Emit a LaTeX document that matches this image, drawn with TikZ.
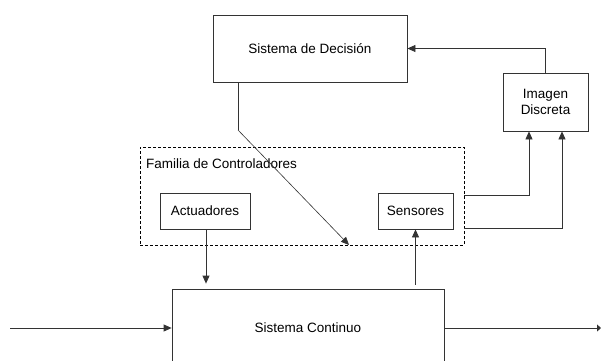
\documentclass[tikz,border=0pt]{standalone}
\usepackage{fontspec}
\setmainfont{Liberation Sans}
\usetikzlibrary{arrows.meta,calc}
\begin{document}
\begin{tikzpicture}[x=1pt,y=-1pt,
  line/.style={draw=black!80,line width=0.8pt},
  blockbox/.style={line,fill=white,inner sep=0pt,font=\fontsize{13.5}{16}\selectfont,align=center},
  arr/.style={line,-{Triangle[length=8pt,width=7pt]}},
  groupbox/.style={draw=black,dashed,line width=0.7pt,dash pattern=on 3pt off 2pt,inner sep=0pt}]
\useasboundingbox (0,0) rectangle (602,361);
% controller family (dashed frame)
\node[groupbox,minimum width=324pt,minimum height=98pt] (fam) at (302,196) {};
\node[anchor=west,inner sep=0pt,font=\fontsize{13.5}{16}\selectfont] (famlabel) at (146,164) {Familia de Controladores};
% blocks
\node[blockbox,minimum width=194pt,minimum height=67pt] (dec) at (310,48.5) {Sistema de Decisión};
\node[blockbox,minimum width=85pt,minimum height=58pt] (img) at (545.5,102) {Imagen\\Discreta};
\node[blockbox,minimum width=90pt,minimum height=36pt] (act) at (205,211) {Actuadores};
\node[blockbox,minimum width=75pt,minimum height=36pt] (sen) at (415.5,211) {Sensores};
\node[blockbox,minimum width=272pt,minimum height=78pt] (cont) at (308,328) {Sistema Continuo};
% helper points
\coordinate (bend) at (238,130);
\coordinate (tip) at (349,245);
\coordinate (inp) at (10,328);
\coordinate (outp) at (601,328);
\coordinate (s1) at (529,195);
\coordinate (s2) at (562,228);
% connectors
\draw[line] (dec.south -| bend) -- (bend);
\draw[line,-{Triangle[length=8pt,width=7pt]},line width=0.6pt] (bend) -- (tip);
\draw[arr] (img.north) |- (dec.east);
\draw[arr] (fam.east |- s1) -| (img.south -| s1);
\draw[arr] (fam.east |- s2) -| (img.south -| s2);
\draw[arr,shorten >=5pt] ([xshift=1pt]act.south) -- ([xshift=1pt]act.south |- cont.north);
\draw[arr,shorten <=4pt] (sen.south |- cont.north) -- (sen.south);
\draw[arr] (inp) -- (cont.west);
\draw[line,-{Triangle[length=4pt,width=7pt]}] (cont.east) -- (outp);
\end{tikzpicture}
\end{document}
